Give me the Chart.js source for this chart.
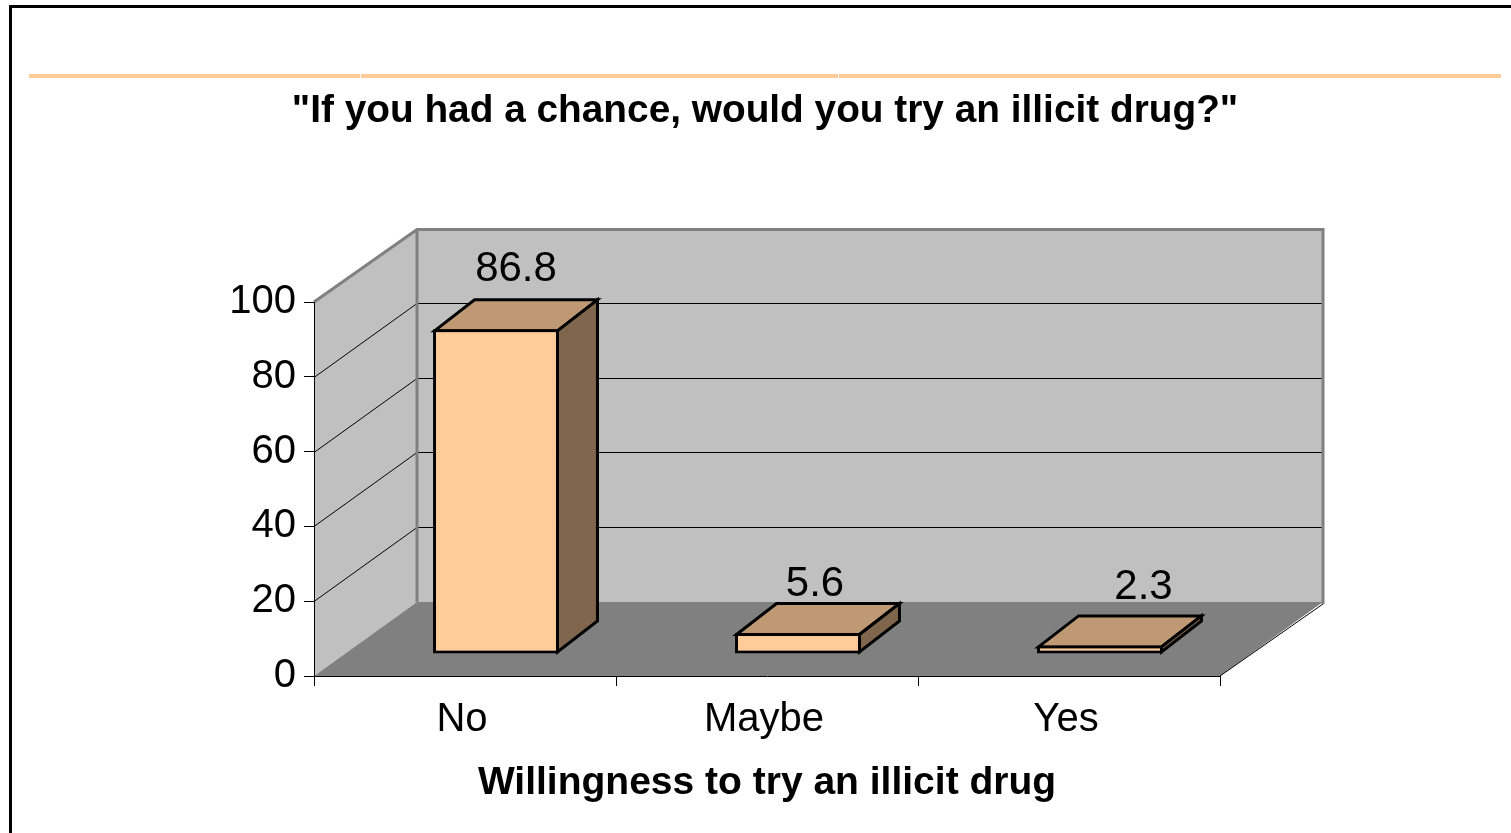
<!DOCTYPE html>
<html>
<head>
<meta charset="utf-8">
<title>Willingness to try an illicit drug</title>
<style>html,body{margin:0;padding:0;background:#fff}canvas{display:block}</style>
<script src="https://cdn.jsdelivr.net/npm/chart.js@4"></script>
</head>
<body>
<canvas id="c" width="1511" height="833"></canvas>
<script>
const categories = ["No", "Maybe", "Yes"];
const percentValues = [86.8, 5.6, 2.3];
const yTickValues = [0, 20, 40, 60, 80, 100];
const chartTitle = '"If you had a chance, would you try an illicit drug?"';
const xAxisTitle = "Willingness to try an illicit drug";

const FONT = '"Liberation Sans", Arial, sans-serif';
const wall = { dx: 103, dy: -74 };
const bar3d = { dx: 31, dy: -22, depthX: 40, depthY: -31 };
const labelNudge = [{ x: 20, y: 281 }, { x: 17, y: 596 }, { x: 43.5, y: 599 }];

const scene = {
  id: 'scene',
  beforeDraw(chart) {
    const { ctx, scales: { x, y }, chartArea: a } = chart;
    chart.titleBlock.left = 0;
    chart.titleBlock.right = 1530;
    ctx.save();
    ctx.fillStyle = '#fff';
    ctx.fillRect(0, 0, chart.width, chart.height);
    // outer frame
    ctx.fillStyle = '#000';
    ctx.fillRect(9, 5, chart.width - 9, 3);
    ctx.fillRect(9, 5, 3, chart.height - 5);
    // header rule with its two small breaks
    ctx.fillStyle = '#FFCC99';
    ctx.fillRect(29, 74, 331, 4);
    ctx.fillRect(361, 74, 477, 4);
    ctx.fillRect(839, 74, 662, 4);

    const y0 = y.getPixelForValue(0), yTop = y.getPixelForValue(100);
    const L = a.left, R = a.right, d = wall;
    const backTop = yTop + d.dy + 1.5;
    // back wall
    ctx.fillStyle = '#C0C0C0';
    ctx.fillRect(L + d.dx, backTop, R - L, y0 + d.dy - backTop);
    // side wall
    ctx.beginPath();
    ctx.moveTo(L, y0); ctx.lineTo(L + d.dx, y0 + d.dy);
    ctx.lineTo(L + d.dx, backTop); ctx.lineTo(L, yTop); ctx.closePath();
    ctx.fill();
    // floor
    ctx.fillStyle = '#808080';
    ctx.beginPath();
    ctx.moveTo(L, y0); ctx.lineTo(L + d.dx, y0 + d.dy);
    ctx.lineTo(R + d.dx, y0 + d.dy); ctx.lineTo(R, y0); ctx.closePath();
    ctx.fill();
    // grid lines on both walls
    ctx.strokeStyle = '#000'; ctx.lineWidth = 1;
    yTickValues.filter(v => v > 0 && v < 100).forEach(v => {
      const py = Math.round(y.getPixelForValue(v)) + 0.5;
      ctx.beginPath();
      ctx.moveTo(L, py); ctx.lineTo(L + d.dx, py + d.dy);
      ctx.lineTo(R + d.dx, py + d.dy);
      ctx.stroke();
    });
    // floor front-right edge
    ctx.beginPath(); ctx.moveTo(R, y0); ctx.lineTo(R + d.dx, y0 + d.dy + 2); ctx.stroke();
    // wall outline
    ctx.strokeStyle = '#808080'; ctx.lineWidth = 3;
    ctx.beginPath();
    ctx.moveTo(L, yTop); ctx.lineTo(L + d.dx, backTop);
    ctx.lineTo(R + d.dx, backTop); ctx.lineTo(R + d.dx, y0 + d.dy + 2);
    ctx.moveTo(L + d.dx, backTop); ctx.lineTo(L + d.dx, y0 + d.dy);
    ctx.stroke();
    ctx.restore();
  },
  beforeDatasetDraw(chart, args) {
    const { ctx } = chart, b = bar3d;
    ctx.save();
    ctx.translate(b.dx, b.dy);
    args.meta.data.forEach(el => {
      const p = el.getProps(['x', 'y', 'base', 'width'], true);
      const l = p.x - p.width / 2 + 1.5, r = p.x + p.width / 2 - 1.5;
      const t = p.y + 1.5, bot = p.base - 1.5;
      ctx.lineWidth = 3; ctx.strokeStyle = '#000'; ctx.lineJoin = 'miter';
      ctx.fillStyle = '#BF9973';
      ctx.beginPath();
      ctx.moveTo(l, t); ctx.lineTo(l + b.depthX, t + b.depthY);
      ctx.lineTo(r + b.depthX, t + b.depthY); ctx.lineTo(r, t); ctx.closePath();
      ctx.fill(); ctx.stroke();
      ctx.fillStyle = '#7F664C';
      ctx.beginPath();
      ctx.moveTo(r, t); ctx.lineTo(r + b.depthX, t + b.depthY);
      ctx.lineTo(r + b.depthX, bot + b.depthY); ctx.lineTo(r, bot); ctx.closePath();
      ctx.fill(); ctx.stroke();
    });
  },
  afterDatasetDraw(chart, args) {
    const { ctx } = chart;
    ctx.restore();
    ctx.save();
    ctx.fillStyle = '#000';
    ctx.font = '42px ' + FONT;
    ctx.textAlign = 'center';
    ctx.textBaseline = 'alphabetic';
    args.meta.data.forEach((el, i) => {
      const n = labelNudge[i];
      ctx.fillText(percentValues[i].toFixed(1), el.x + bar3d.dx + n.x, n.y);
    });
    ctx.restore();
  }
};

new Chart(document.getElementById('c'), {
  type: 'bar',
  data: {
    labels: categories,
    datasets: [{
      data: percentValues,
      backgroundColor: '#FFCC99',
      borderColor: '#000',
      borderWidth: 3,
      borderSkipped: false,
      categoryPercentage: 1,
      barPercentage: 0.417,
      clip: false
    }]
  },
  options: {
    responsive: false,
    animation: false,
    layout: { padding: { left: 214, right: 291, top: 0, bottom: 0 } },
    plugins: {
      legend: { display: false },
      tooltip: { enabled: false },
      title: {
        display: true,
        text: chartTitle,
        color: '#000',
        font: { family: FONT, size: 38.8, weight: 'bold', lineHeight: 1.2 },
        padding: { top: 88, bottom: 167.44 }
      }
    },
    scales: {
      x: {
        afterFit(s) { s.height = 157; },
        grid: { drawOnChartArea: false, color: '#000', tickLength: 10, tickColor: '#000' },
        border: { color: '#000', width: 1 },
        ticks: { color: '#000', font: { family: FONT, size: 40 }, padding: 10, labelOffset: -3, maxRotation: 0 },
        title: {
          display: true, text: xAxisTitle, color: '#000',
          font: { family: FONT, size: 39, weight: 'bold', lineHeight: 1.2 },
          padding: { top: 0, bottom: 26 }
        }
      },
      y: {
        min: 0, max: 100,
        afterFit(s) { s.width = 100; },
        afterBuildTicks(s) { s.ticks = yTickValues.map(v => ({ value: v })); },
        grid: { drawOnChartArea: false, color: '#000', tickLength: 10, tickColor: '#000' },
        border: { color: '#000', width: 1 },
        ticks: { color: '#000', font: { family: FONT, size: 40 }, padding: 8 }
      }
    }
  },
  plugins: [scene]
});
</script>
</body>
</html>
